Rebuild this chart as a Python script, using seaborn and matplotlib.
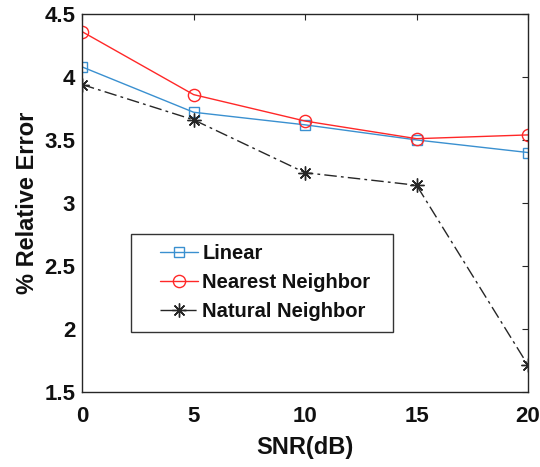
import matplotlib
matplotlib.use("Agg")
import matplotlib.pyplot as plt
from matplotlib.patches import Rectangle
import seaborn as sns
import pandas as pd

snr_db = [0, 5, 10, 15, 20]
linear = [4.08, 3.72, 3.62, 3.50, 3.40]
nearest = [4.36, 3.86, 3.65, 3.51, 3.54]
natural = [3.94, 3.66, 3.24, 3.14, 1.71]
y_ticks = [1.5, 2, 2.5, 3, 3.5, 4, 4.5]
y_tick_labels = ["1.5", "2", "2.5", "3", "3.5", "4", "4.5"]

sns.set_theme(style="white")
plt.rcParams["font.family"] = ["Liberation Sans", "DejaVu Sans"]
plt.rcParams["font.weight"] = "bold"

fig = plt.figure(figsize=(5.4, 4.67), dpi=100)
ax = fig.add_axes([0.152, 0.161, 0.826, 0.809])

series = [
    ("Linear", linear, "#3A90D0", "s", "-", 7.5),
    ("Nearest Neighbor", nearest, "#FF2828", "o", "-", 8.8),
    ("Natural Neighbor", natural, "#262626", (8, 2, 0), (0, (9, 3, 2, 3)), 10),
]
for name, vals, color, marker, ls, ms in series:
    df = pd.DataFrame({"SNR": snr_db, "err": vals})
    sns.lineplot(data=df, x="SNR", y="err", ax=ax, color=color, marker=marker,
                 markersize=ms, markerfacecolor="none", markeredgecolor=color,
                 markeredgewidth=1.0, linestyle=ls, linewidth=1.0, label=name)

ax.set_xlim(0, 20)
ax.set_ylim(1.5, 4.5)
ax.set_xticks(snr_db)
ax.set_yticks(y_ticks)
ax.set_yticklabels(y_tick_labels)
ax.tick_params(direction="in", length=4, width=0.8, top=True, right=True,
               colors="#262626")
ax.tick_params(axis="x", pad=10)
ax.tick_params(axis="y", pad=5)
for lab in ax.get_xticklabels() + ax.get_yticklabels():
    lab.set_fontweight("bold")
    lab.set_fontsize(16)
    lab.set_color("#111111")
for sp in ax.spines.values():
    sp.set_color("#262626")
    sp.set_linewidth(1.0)

ax.set_xlabel("SNR(dB)", fontsize=17, fontweight="bold", labelpad=7,
              color="#111111")
ax.set_ylabel("% Relative Error", fontsize=17, fontweight="bold", labelpad=4,
              color="#111111")

# legend entries, with a separate outline box around them
leg = ax.legend(loc="upper left", bbox_to_anchor=(0.175, 0.392), fontsize=14.5,
                frameon=False, handlelength=1.9, borderpad=0,
                labelspacing=0.5, handletextpad=0.2, borderaxespad=0,
                numpoints=1)
for t in leg.get_texts():
    t.set_fontweight("bold")
    t.set_color("#111111")
ax.add_patch(Rectangle((0.110, 0.159), 0.587, 0.259, transform=ax.transAxes,
                       fill=True, facecolor="white", edgecolor="#333333",
                       linewidth=1.0, zorder=4))
leg.set_zorder(5)

fig.savefig("out.png", dpi=100)
